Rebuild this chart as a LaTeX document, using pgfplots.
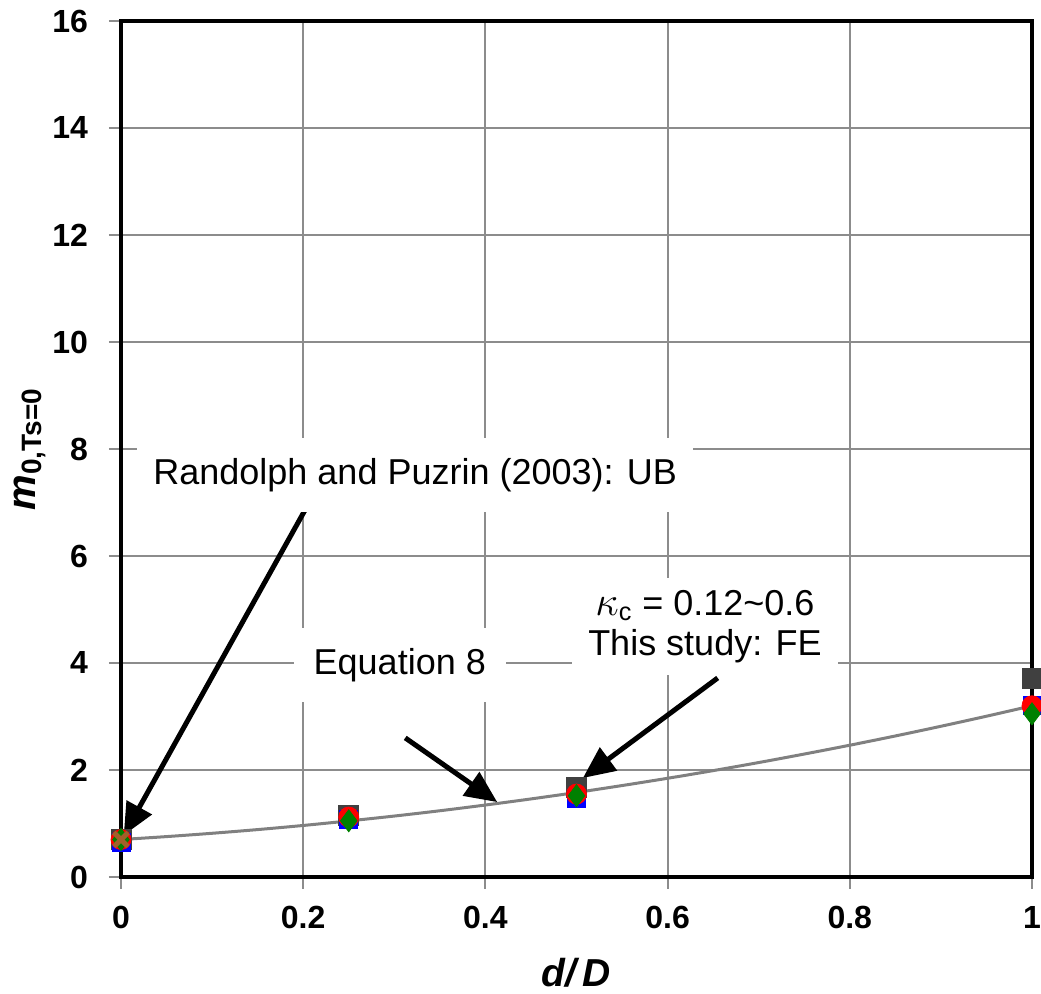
\documentclass[border=0pt]{standalone}
\usepackage{pgfplots}
\pgfplotsset{compat=1.18}
\usepackage{fontspec}
\setmainfont{Liberation Sans}
\usetikzlibrary{arrows.meta}

\definecolor{dgray}{HTML}{404040}
\definecolor{gridgray}{HTML}{8C8C8C}
\definecolor{eqgray}{HTML}{808080}
\definecolor{ubbrown}{HTML}{A0602A}

\begin{document}
\begin{tikzpicture}
\begin{axis}[
  at={(0,0)}, anchor=south west,
  scale only axis,
  width=455.5pt, height=428pt,
  xmin=0, xmax=1, ymin=0, ymax=16,
  xtick={0,0.2,0.4,0.6,0.8,1},
  ytick={0,2,4,6,8,10,12,14,16},
  xtick pos=bottom, ytick pos=left,
  grid=major,
  major grid style={gridgray, line width=1pt},
  tick align=outside,
  major tick length=6pt,
  tick style={gridgray, line width=1pt},
  axis line style={black, line width=2pt},
  /pgf/number format/assume math mode=true,
  ticklabel style={font=\fontsize{16}{18}\selectfont\bfseries},
  xticklabel style={yshift=-5pt},
  yticklabel style={xshift=-7pt},
  xlabel style={font=\fontsize{19.5}{22}\selectfont\bfseries\itshape,
    at={(rel axis cs:0.5,0)}, anchor=center, yshift=-48pt},
  ylabel style={font=\fontsize{20}{22}\selectfont\bfseries,
    at={(rel axis cs:0,0.5)}, anchor=center, yshift=45.5pt},
  xlabel={d/\,D},
  ylabel={{\itshape m}\textsubscript{0,Ts=0}},
  clip=false,
]
% FE results, several kappa_c values
\addplot[only marks, mark=square*, mark size=5pt, color=dgray] coordinates {
  (0,0.70) (0.25,1.15) (0.5,1.68) (1,3.72)};
\addplot[only marks, mark=square*, mark size=4.5pt, color=blue] coordinates {
  (0,0.65) (0.25,1.08) (0.5,1.47) (1,3.20)};
\addplot[only marks, mark=*, mark size=5pt, color=red] coordinates {
  (0,0.70) (0.25,1.12) (0.5,1.55) (1,3.20)};
\addplot[only marks, mark=diamond*, mark size=5.5pt, color=black!50!green] coordinates {
  (0,0.70) (0.25,1.05) (0.5,1.52) (1,3.05)};
% Upper bound
\addplot[only marks, mark=x, mark size=5pt, line width=2.5pt, color=ubbrown] coordinates {
  (0,0.70)};
% Equation 8
\addplot[eqgray, line width=1.5pt, smooth] coordinates {
  (0,0.700) (0.05,0.755) (0.1,0.817) (0.15,0.886) (0.2,0.963)
  (0.25,1.048) (0.3,1.139) (0.35,1.238) (0.4,1.345) (0.45,1.459)
  (0.5,1.580) (0.55,1.709) (0.6,1.845) (0.65,1.988) (0.7,2.139)
  (0.75,2.298) (0.8,2.463) (0.85,2.636) (0.9,2.817) (0.95,3.005) (1,3.200)};

% annotations
\draw[black, line width=2.5pt, -{Triangle[length=16pt,width=14pt]}]
  (axis cs:0.205,6.95) -- (axis cs:0.003,0.78);
\draw[black, line width=2.5pt, -{Triangle[length=16pt,width=14pt]}]
  (axis cs:0.312,2.60) -- (axis cs:0.413,1.40);
\draw[black, line width=2.5pt, -{Triangle[length=16pt,width=14pt]}]
  (axis cs:0.655,3.72) -- (axis cs:0.507,1.85);
\node[fill=white, inner xsep=8pt, inner ysep=10pt, font=\fontsize{18}{21}\selectfont]
  at (axis cs:0.323,7.51) {Randolph and Puzrin (2003): UB};
\node[fill=white, inner xsep=10pt, inner ysep=10pt, font=\fontsize{18}{21}\selectfont]
  at (axis cs:0.306,3.96) {Equation 8};
\node[fill=white, align=center, inner xsep=8pt, inner ysep=6pt, font=\fontsize{18}{20}\selectfont]
  at (axis cs:0.641,4.68) {\fontsize{21}{20}\selectfont$\kappa$\fontsize{18}{20}\selectfont\textsubscript{c} = 0.12\textasciitilde 0.6\\This study: FE};
\end{axis}
\pgfresetboundingbox
\useasboundingbox (-60.5pt,-58.5pt) rectangle (460pt,438.5pt);
\end{tikzpicture}
\end{document}
